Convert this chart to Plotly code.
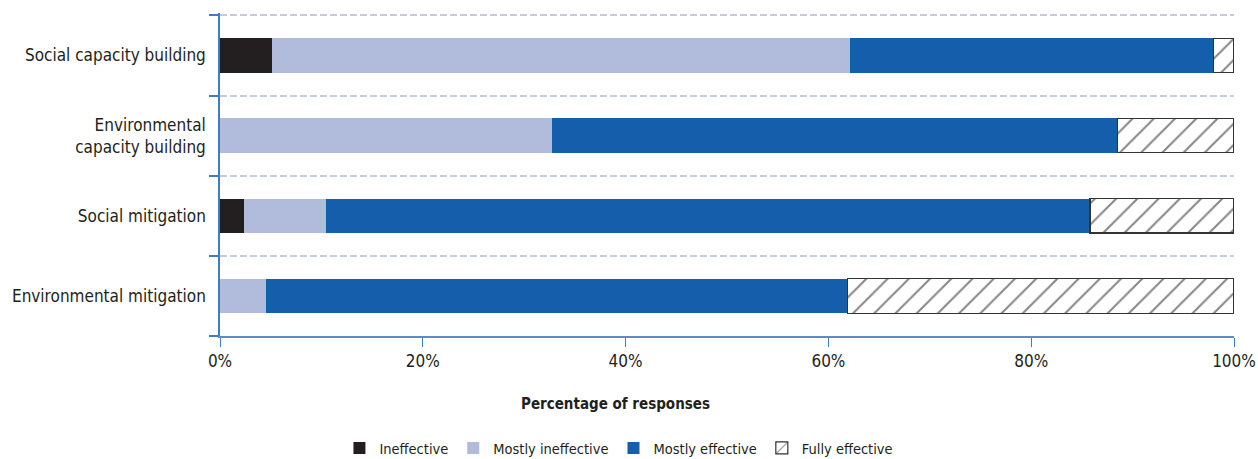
import plotly.graph_objects as go

categories = ["Environmental mitigation", "Social mitigation",
              "Environmental<br>capacity building", "Social capacity building"]
ineffective = [0.0, 2.4, 0.0, 5.1]
mostly_ineffective = [4.5, 8.1, 32.7, 57.0]
mostly_effective = [57.4, 75.3, 55.8, 35.9]
fully_effective = [38.1, 14.2, 11.5, 2.0]
x_ticks = [0, 20, 40, 60, 80, 100]
x_labels = ["0%", "20%", "40%", "60%", "80%", "100%"]
x_title = "Percentage of responses"

FONT = "DejaVu Sans Condensed, Liberation Sans Narrow, sans-serif"
TXT = "#231f20"
AXIS = "#3f7cc4"

fig = go.Figure()
bw = 0.43
fig.add_trace(go.Bar(name="Ineffective", y=categories, x=ineffective, orientation="h",
                     width=bw, marker=dict(color="#231f20", line=dict(width=0))))
fig.add_trace(go.Bar(name="Mostly ineffective", y=categories, x=mostly_ineffective, orientation="h",
                     width=bw, marker=dict(color="#b1bcdd", line=dict(width=0))))
fig.add_trace(go.Bar(name="Mostly effective", y=categories, x=mostly_effective, orientation="h",
                     width=bw, marker=dict(color="#155eab", line=dict(width=0))))
fig.add_trace(go.Bar(name="Fully effective", y=categories, x=fully_effective, orientation="h",
                     width=bw, marker=dict(color="white",
                                           line=dict(color="#333333", width=1.2),
                                           pattern=dict(shape="/", fgcolor="#111111", bgcolor="white",
                                                        size=15, solidity=0.14))))

fig.update_layout(
    barmode="stack",
    width=1258, height=459,
    margin=dict(l=220, r=24, t=13, b=123, autoexpand=False),
    paper_bgcolor="white", plot_bgcolor="white",
    font=dict(family=FONT, size=17, color=TXT),
    showlegend=True,
    legend=dict(orientation="h", xref="container", x=0.492, xanchor="center",
                yref="container", y=0.024, yanchor="middle",
                font=dict(family=FONT, size=14.5, color=TXT), itemwidth=30,
                traceorder="normal"),
    annotations=[dict(text="<b>" + x_title + "</b>", xref="paper", yref="paper",
                      x=0.39, y=-0.209, xanchor="center", yanchor="middle",
                      showarrow=False, font=dict(family=FONT, size=15, color=TXT))],
)
fig.update_xaxes(range=[0, 100], tickvals=x_ticks, ticktext=x_labels,
                 showgrid=False, zeroline=False, automargin=False,
                 showline=True, linecolor="#5b8bcb", linewidth=2,
                 ticks="outside", tickcolor=AXIS, ticklen=9, tickwidth=1.2,
                 tickfont=dict(family=FONT, size=17, color=TXT))
fig.update_yaxes(type="category", categoryorder="array", categoryarray=categories,
                 tickson="boundaries", range=[-0.5, 3.53], automargin=False,
                 showgrid=True, gridcolor="#c5cbe3", griddash="7px,3px", gridwidth=1.5,
                 showline=True, linecolor=AXIS, linewidth=1.5,
                 ticks="outside", tickcolor=AXIS, ticklen=9, tickwidth=1.5,
                 tickfont=dict(family=FONT, size=17, color=TXT), ticklabelstandoff=9)

fig.write_html("out.html", config={"displayModeBar": False},
               post_script="document.body.style.margin='0';document.body.style.overflow='hidden';")
